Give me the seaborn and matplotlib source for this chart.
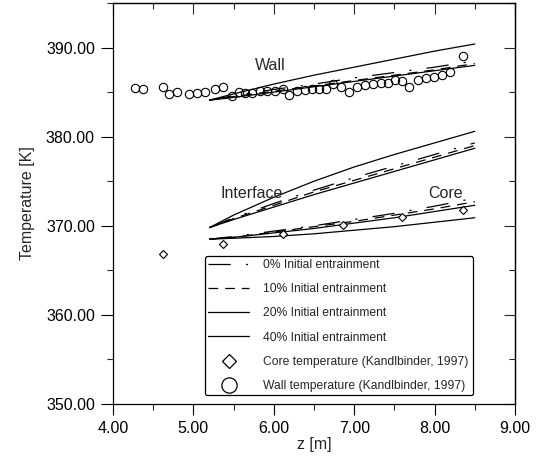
import numpy as np
import pandas as pd
import matplotlib
matplotlib.use("Agg")
import matplotlib.pyplot as plt
from matplotlib.lines import Line2D
from matplotlib.ticker import MultipleLocator, FormatStrFormatter
import seaborn as sns

# ---------------- data ----------------
z_model = [5.2, 5.5, 6.0, 6.5, 7.0, 7.5, 8.0, 8.5]

wall_0 = [384.1, 384.6, 385.3, 385.9, 386.6, 387.2, 387.8, 388.5]
wall_10 = [384.1, 384.5, 385.1, 385.7, 386.3, 386.9, 387.5, 388.2]
wall_20 = [384.1, 384.4, 385.0, 385.6, 386.2, 386.8, 387.4, 388.0]
wall_40 = [384.1, 384.8, 385.9, 386.9, 387.8, 388.7, 389.6, 390.4]

intf_0 = [369.8, 370.9, 372.5, 374.0, 375.4, 376.7, 378.0, 379.3]
intf_10 = [369.8, 370.8, 372.3, 373.8, 375.1, 376.4, 377.7, 379.0]
intf_20 = [369.8, 370.7, 372.1, 373.5, 374.8, 376.1, 377.4, 378.7]
intf_40 = [369.8, 371.2, 373.2, 375.0, 376.6, 378.0, 379.3, 380.6]

core_0 = [368.5, 368.8, 369.4, 370.0, 370.7, 371.4, 372.2, 373.1]
core_10 = [368.5, 368.7, 369.3, 369.9, 370.5, 371.2, 371.9, 372.7]
core_20 = [368.5, 368.7, 369.2, 369.7, 370.3, 370.9, 371.6, 372.3]
core_40 = [368.5, 368.6, 368.8, 369.1, 369.5, 369.9, 370.4, 370.9]

core_z = [4.62, 5.37, 6.11, 6.86, 7.60, 8.35]
core_T = [366.8, 368.0, 369.1, 370.1, 371.0, 371.8]

wall_z = [4.27, 4.37, 4.62, 4.70, 4.80, 4.95, 5.05, 5.15, 5.27, 5.37,
          5.48, 5.57, 5.64, 5.73, 5.83, 5.92, 6.01, 6.11, 6.19, 6.29,
          6.39, 6.48, 6.56, 6.65, 6.74, 6.84, 6.94, 7.04, 7.14, 7.24,
          7.33, 7.42, 7.51, 7.60, 7.68, 7.79, 7.89, 7.99, 8.09, 8.19, 8.35]
wall_T = [385.5, 385.3, 385.6, 384.8, 385.0, 384.8, 384.9, 385.0, 385.3, 385.6,
          384.6, 385.0, 384.9, 384.9, 385.1, 385.1, 385.1, 385.3, 384.7, 385.1,
          385.2, 385.3, 385.4, 385.3, 385.9, 385.6, 385.0, 385.6, 385.8, 385.9,
          386.0, 386.0, 386.4, 386.3, 385.6, 386.4, 386.6, 386.7, 386.9, 387.3, 389.0]

legend_labels = ["0% Initial entrainment", "10% Initial entrainment",
                 "20% Initial entrainment", "40% Initial entrainment",
                 "Core temperature (Kandlbinder, 1997)",
                 "Wall temperature (Kandlbinder, 1997)"]

x_ticks = [4, 5, 6, 7, 8, 9]
y_ticks = [350, 360, 370, 380, 390]

# ---------------- style ----------------
sns.set_style("ticks")
plt.rcParams['font.family'] = ['Liberation Sans', 'DejaVu Sans']
plt.rcParams['lines.scale_dashes'] = False

fig = plt.figure(figsize=(5.37, 4.63), dpi=100)
ax = fig.add_axes([113 / 537, 1 - 404 / 463, 402 / 537, 401 / 463])

lw = 0.9
styles = {
    "0": (0, (16, 11, 1.5, 11)),
    "10": (0, (7, 5)),
    "20": "-",
    "40": "-",
}

groups = [
    (wall_0, wall_10, wall_20, wall_40),
    (intf_0, intf_10, intf_20, intf_40),
    (core_0, core_10, core_20, core_40),
]
for g in groups:
    for vals, key in zip(g, ["0", "10", "20", "40"]):
        sns.lineplot(x=z_model, y=vals, ax=ax, color="black", linewidth=lw,
                     linestyle=styles[key], estimator=None, sort=False)

sns.lineplot(x=core_z, y=core_T, ax=ax, linestyle="", marker="D",
             markersize=4.5, markerfacecolor="white", markeredgecolor="black",
             markeredgewidth=0.8, color="black", estimator=None, sort=False)
sns.lineplot(x=wall_z, y=wall_T, ax=ax, linestyle="", marker="o",
             markersize=6.0, markerfacecolor="none", markeredgecolor="black",
             markeredgewidth=0.8, color="black", estimator=None, sort=False)

ax.set_xlim(4, 9)
ax.set_ylim(350, 395)
ax.set_xticks(x_ticks)
ax.set_yticks(y_ticks)
ax.xaxis.set_minor_locator(MultipleLocator(0.5))
ax.yaxis.set_minor_locator(MultipleLocator(5))
ax.xaxis.set_major_formatter(FormatStrFormatter('%.2f'))
ax.yaxis.set_major_formatter(FormatStrFormatter('%.2f'))
ax.tick_params(which='major', direction='out', length=8.5, width=0.8,
               labelsize=11.5, colors='black', pad=4.5)
ax.tick_params(which='minor', direction='out', length=4, width=0.8)
ax.tick_params(axis='x', which='major', length=8, pad=4)
for sp in ax.spines.values():
    sp.set_visible(True)
    sp.set_linewidth(0.9)
    sp.set_color('black')

# inward ticks on top and right
top = ax.secondary_xaxis('top')
top.set_xticks(x_ticks)
top.xaxis.set_minor_locator(MultipleLocator(0.5))
top.tick_params(which='major', direction='in', length=8, width=0.8, labeltop=False)
top.tick_params(which='minor', direction='in', length=4, width=0.8)
top.spines['top'].set_linewidth(0.9)
right = ax.secondary_yaxis('right')
right.set_yticks(y_ticks)
right.yaxis.set_minor_locator(MultipleLocator(5))
right.tick_params(which='major', direction='in', length=8, width=0.8, labelright=False)
right.tick_params(which='minor', direction='in', length=4, width=0.8)
right.spines['right'].set_linewidth(0.9)

ax.set_xlabel("z [m]", fontsize=11.5, labelpad=1)
ax.set_ylabel("Temperature [K]", fontsize=11.5, labelpad=8)

ax.text(5.95, 388.0, "Wall", fontsize=11.5, ha='center', va='center')
ax.text(5.72, 373.6, "Interface", fontsize=11.5, ha='center', va='center')
ax.text(8.14, 373.6, "Core", fontsize=11.5, ha='center', va='center')

handles = [
    Line2D([], [], color='black', lw=lw, linestyle=styles["0"]),
    Line2D([], [], color='black', lw=lw, linestyle=styles["10"]),
    Line2D([], [], color='black', lw=lw, linestyle=styles["20"]),
    Line2D([], [], color='black', lw=lw, linestyle=styles["40"]),
    Line2D([], [], linestyle='', marker='D', markersize=7.5,
           markerfacecolor='white', markeredgecolor='black', markeredgewidth=0.9),
    Line2D([], [], linestyle='', marker='o', markersize=11,
           markerfacecolor='white', markeredgecolor='black', markeredgewidth=0.9),
]
leg = ax.legend(handles, legend_labels, loc='lower left',
                bbox_to_anchor=(0.229, 0.0225, 0.667, 0.35), mode='expand',
                fontsize=8.75, frameon=True, fancybox=True, framealpha=1,
                edgecolor='black', borderpad=0.25, labelspacing=1.0,
                handlelength=3.4, handletextpad=1.1, borderaxespad=0)
leg.get_frame().set_linewidth(0.9)

fig.savefig("out.png", dpi=100, facecolor='white')
